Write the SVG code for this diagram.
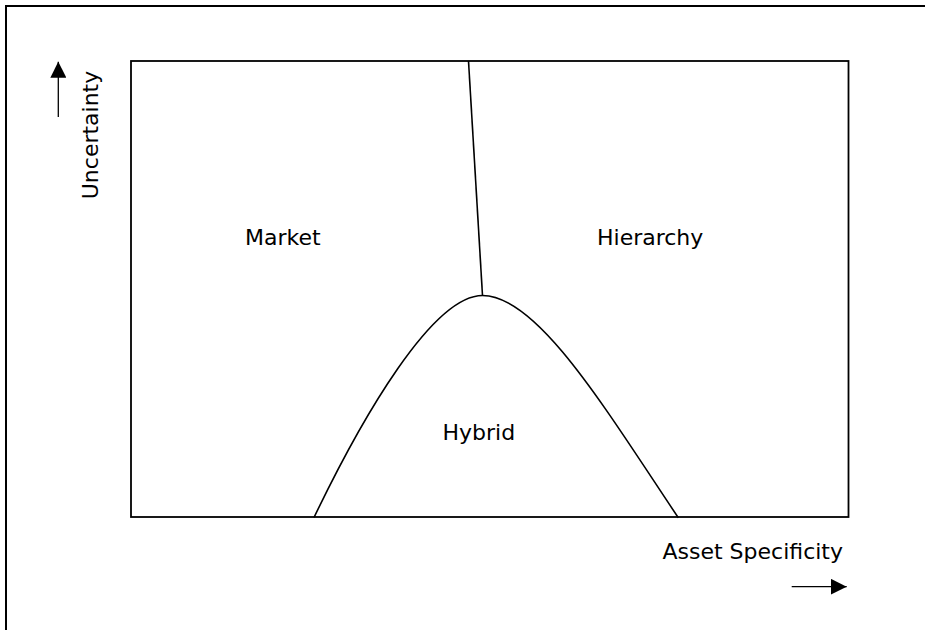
<svg xmlns="http://www.w3.org/2000/svg" width="925" height="630" viewBox="0 0 925 630">
<defs>
<style>
.lbl{font-family:"DejaVu Sans","Liberation Sans",sans-serif;font-size:22px;fill:#000}
.ln{fill:none;stroke:#000;stroke-width:1.6}
.ax{fill:none;stroke:#000;stroke-width:1.3}
</style>
<marker id="ah" markerUnits="userSpaceOnUse" markerWidth="16" markerHeight="16" refX="16" refY="8" orient="auto">
<path d="M0,0 L16,8 L0,16 z" fill="#000"/>
</marker>
</defs>
<rect x="0" y="0" width="925" height="630" fill="#fff"/>
<rect id="frame" x="6" y="6" width="940" height="650" fill="none" stroke="#000" stroke-width="2"/>
<rect id="plot" x="131" y="61" width="717.5" height="456" fill="none" stroke="#000" stroke-width="1.8"/>
<g id="connectors">
<path id="divider" class="ln" d="M468.5,61 L482.5,295.5"/>
<path id="hybrid-curve" class="ln" d="M314,517.5 C362,417.5 432.5,295.5 482.5,295.5 C537.5,295.5 604.6,407.7 678.3,517.7"/>
<line id="arrow-up" class="ax" x1="58.3" y1="117" x2="58.3" y2="61.7" marker-end="url(#ah)"/>
<line id="arrow-right" class="ax" x1="791.7" y1="586.7" x2="846.7" y2="586.7" marker-end="url(#ah)"/>
</g>
<g id="market"><text class="lbl" x="245" y="244.5">Market</text></g>
<g id="hierarchy"><text class="lbl" x="597" y="244.5">Hierarchy</text></g>
<g id="hybrid"><text class="lbl" x="442.5" y="439.5">Hybrid</text></g>
<g id="y-axis-label"><text class="lbl" text-anchor="middle" transform="translate(97.5,135) rotate(-90)">Uncertainty</text></g>
<g id="x-axis-label"><text class="lbl" text-anchor="end" x="843" y="559">Asset Specificity</text></g>
</svg>
